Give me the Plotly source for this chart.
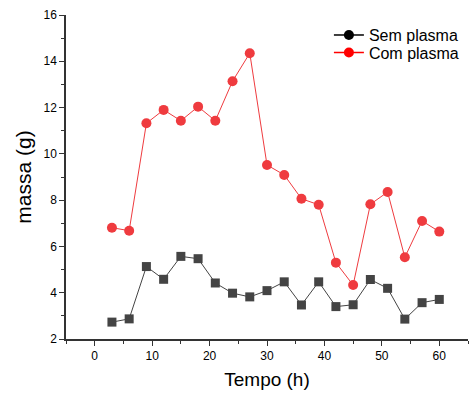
import plotly.graph_objects as go

tempo = [3, 6, 9, 12, 15, 18, 21, 24, 27, 30, 33, 36, 39, 42, 45, 48, 51, 54, 57, 60]
sem_plasma = [2.73, 2.87, 5.13, 4.58, 5.57, 5.47, 4.42, 3.98, 3.82, 4.09, 4.47, 3.47, 4.47, 3.40, 3.48, 4.57, 4.19, 2.86, 3.57, 3.71]
com_plasma = [6.81, 6.68, 11.32, 11.90, 11.43, 12.04, 11.43, 13.14, 14.35, 9.52, 9.09, 8.06, 7.80, 5.30, 4.33, 7.82, 8.35, 5.53, 7.10, 6.64]

RED = "#EF3B3F"
GREY = "#444444"
FONT = "Liberation Sans, Arial, sans-serif"

fig = go.Figure()
fig.add_trace(go.Scatter(x=tempo, y=sem_plasma, mode="lines+markers", showlegend=False,
                         line=dict(color=GREY, width=1),
                         marker=dict(symbol="square", size=9, color=GREY)))
fig.add_trace(go.Scatter(x=tempo, y=com_plasma, mode="lines+markers", showlegend=False,
                         line=dict(color=RED, width=1),
                         marker=dict(symbol="circle", size=10, color=RED)))
# legend entries
fig.add_trace(go.Scatter(x=[None], y=[None], mode="lines+markers", name="Sem plasma",
                         legend="legend",
                         line=dict(color="black", width=1.5),
                         marker=dict(symbol="circle", size=10, color="black")))
fig.add_trace(go.Scatter(x=[None], y=[None], mode="lines+markers", name="Com plasma",
                         legend="legend2",
                         line=dict(color="red", width=1.5),
                         marker=dict(symbol="circle", size=10, color="red")))

leg_common = dict(xanchor="left", yanchor="middle", bgcolor="rgba(0,0,0,0)",
                  font=dict(size=16), itemwidth=30)

fig.update_layout(
    width=476, height=396,
    margin=dict(l=66, r=8, t=15, b=57),
    paper_bgcolor="white", plot_bgcolor="white",
    font=dict(family=FONT, color="black", size=12),
    legend=dict(x=0.654, y=0.938, **leg_common),
    legend2=dict(x=0.654, y=0.884, **leg_common),
    xaxis=dict(range=[-5, 65], dtick=10, tick0=0, showgrid=False, zeroline=False,
               showline=True, linecolor="#333333", linewidth=1.5,
               ticks="outside", ticklen=5, tickcolor="#333333", tickwidth=1,
               minor=dict(dtick=5, tick0=0, ticks="outside", ticklen=3, tickcolor="#333333"),
               title=dict(text="Tempo (h)", font=dict(size=19), standoff=11)),
    yaxis=dict(range=[2, 16], dtick=2, tick0=0, showgrid=False, zeroline=False,
               showline=True, linecolor="#333333", linewidth=1.5,
               ticks="outside", ticklen=5, tickcolor="#333333", tickwidth=1,
               minor=dict(dtick=1, tick0=0, ticks="outside", ticklen=3, tickcolor="#333333"),
               title=dict(text="massa (g)", font=dict(size=21), standoff=6)),
)

fig.write_html("out.html")
